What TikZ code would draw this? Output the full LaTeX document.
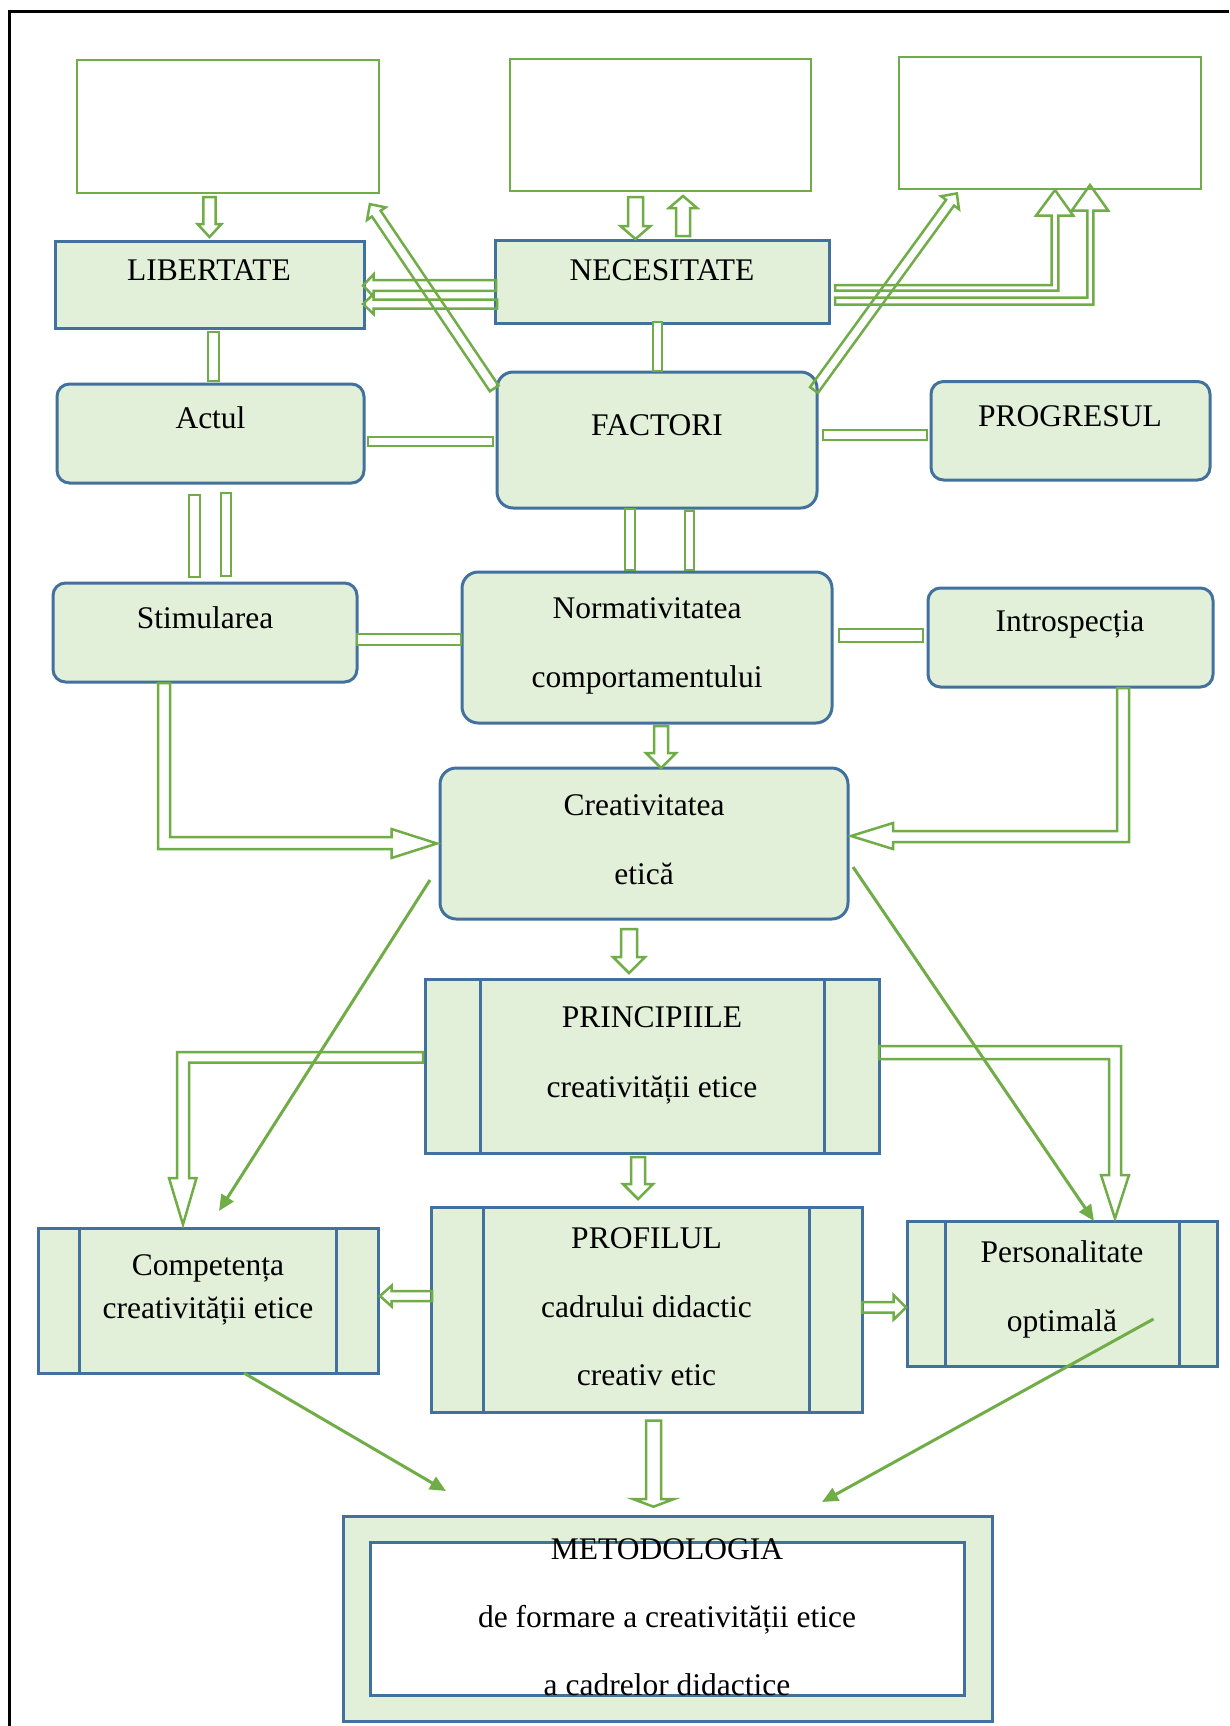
\documentclass[tikz,border=0pt]{standalone}
\usepackage{fontspec}
\setmainfont{Liberation Serif}
\usetikzlibrary{arrows.meta,fit}
\definecolor{gr}{HTML}{70AD47}
\definecolor{bl}{HTML}{41719C}
\definecolor{fillg}{HTML}{E2EFD9}
\tikzset{
  emptybox/.style={draw=gr, line width=1.15pt, fill=white, inner sep=0pt},
  sqbox/.style={draw=bl, line width=1.2pt, fill=fillg, inner sep=0pt},
  rbox/.style={sqbox, rounded corners=5pt},
  rboxL/.style={sqbox, rounded corners=6.5pt},
  innerbox/.style={draw=bl, line width=1.2pt, fill=white, inner sep=0pt},
  blk/.style={draw=gr, line width=1pt, line join=miter},
  bar/.style={draw=gr, line width=1pt, fill=white},
  solidarr/.style={draw=gr, line width=1.2pt, -{Triangle[length=6.4pt,width=5.6pt]}},
  txt/.style={font=\fontsize{12.6}{15}\selectfont, anchor=base, inner sep=0pt},
  divline/.style={draw=bl, line width=1.2pt},
}
% vertical block arrow: xc, shaft half, head half, ystart, ybase, ytip
\newcommand\BlkV[6]{%
  \draw[blk] ({#1-#2},#4) -- ({#1+#2},#4) -- ({#1+#2},#5) -- ({#1+#3},#5) -- (#1,#6) -- ({#1-#3},#5) -- ({#1-#2},#5) -- cycle;}
% horizontal block arrow: yc, shaft half, head half, xstart, xbase, xtip
\newcommand\BlkH[6]{%
  \draw[blk] (#4,{#1-#2}) -- (#5,{#1-#2}) -- (#5,{#1-#3}) -- (#6,#1) -- (#5,{#1+#3}) -- (#5,{#1+#2}) -- (#4,{#1+#2}) -- cycle;}
% diagonal block arrow: start coordinate, page angle, length, shaft half, head half, head length
\newcommand\BlkD[6]{%
  \begin{scope}[shift={(#1)}, rotate=#2]
  \draw[blk] (0,-#4) -- ({#3-#6},-#4) -- ({#3-#6},-#5) -- (#3,0) -- ({#3-#6},#5) -- ({#3-#6},#4) -- (0,#4) -- cycle;
  \end{scope}}
\begin{document}
\begin{tikzpicture}[x=0.4pt,y=-0.4pt]
\useasboundingbox (0,0) rectangle (1229,1726);
\fill[white] (0,0) rectangle (1229,1726);
% frame
\draw[black, line width=1.2pt] (9,1726) -- (9,11) -- (1229,11);

% ---------- top empty boxes ----------
\node[emptybox, fit={(77,60) (379,193)}] (e1) {};
\node[emptybox, fit={(510,59) (811,191)}] (e2) {};
\node[emptybox, fit={(899,57) (1201,189)}] (e3) {};

% ---------- boxes ----------
\node[sqbox, fit={(55,241) (364,328)}] (lib) {};
\node[txt] (libT) at (209,280.6) {LIBERTATE};
\node[sqbox, fit={(495,240) (829,323)}] (nec) {};
\node[txt] (necT) at (662,280.6) {NECESITATE};

\node[rbox, fit={(57,384) (364,483)}] (act) {};
\node[txt] (actT) at (210.5,428) {Actul};
\node[rboxL, fit={(497,372) (817,508)}] (fac) {};
\node[txt] (facT) at (657,435.6) {FACTORI};
\node[rbox, fit={(931,381.5) (1210,480)}] (prog) {};
\node[txt] (progT) at (1070,426) {PROGRESUL};

\node[rbox, fit={(53,583) (357,682)}] (stim) {};
\node[txt] (stimT) at (205,628) {Stimularea};
\node[rboxL, fit={(462,572) (832,723)}] (norm) {};
\node[txt] (normT1) at (647,618) {Normativitatea};
\node[txt] (normT2) at (647,687) {comportamentului};
\node[rbox, fit={(928,588) (1213,687)}] (intro) {};
\node[txt] (introT) at (1070,631) {Introspecția};

\node[rboxL, fit={(440,768) (848,919)}] (crea) {};
\node[txt] (creaT1) at (644,815) {Creativitatea};
\node[txt] (creaT2) at (644,884) {etică};

\node[sqbox, fit={(425,979) (879,1153)}] (princ) {};
\draw[divline] (480,979) -- (480,1153);
\draw[divline] (824,979) -- (824,1153);
\node[txt] (princT1) at (652,1027) {PRINCIPIILE};
\node[txt] (princT2) at (652,1097) {creativității etice};

\node[sqbox, fit={(431,1207) (862,1412)}] (prof) {};
\draw[divline] (483,1207) -- (483,1412);
\draw[divline] (809,1207) -- (809,1412);
\node[txt] (profT1) at (646.5,1248.6) {PROFILUL};
\node[txt] (profT2) at (646.5,1317) {cadrului didactic};
\node[txt] (profT3) at (646.5,1385.6) {creativ etic};

\node[sqbox, fit={(38,1228) (378,1373)}] (comp) {};
\draw[divline] (79,1228) -- (79,1373);
\draw[divline] (336,1228) -- (336,1373);
\node[txt] (compT1) at (208,1275.5) {Competența};
\node[txt] (compT2) at (208,1318.5) {creativității etice};

\node[sqbox, fit={(907,1221) (1217,1366)}] (pers) {};
\draw[divline] (945,1221) -- (945,1366);
\draw[divline] (1179,1221) -- (1179,1366);
\node[txt] (persT1) at (1062,1262.5) {Personalitate};
\node[txt] (persT2) at (1062,1331) {optimală};

\node[sqbox, fit={(343,1516) (992,1721)}] (met) {};
\node[innerbox, fit={(370,1542) (964,1695)}] (metIn) {};
\node[txt] (metT1) at (667,1559) {METODOLOGIA};
\node[txt] (metT2) at (667,1627) {de formare a creativității etice};
\node[txt] (metT3) at (667,1695) {a cadrelor didactice};

% ---------- bars (plain connectors) ----------
\draw[bar] (208,332) rectangle (219,381);
\draw[bar] (653,322) rectangle (662,371);
\draw[bar] (368,437) rectangle (493,446);
\draw[bar] (823,430) rectangle (927,440);
\draw[bar] (189,495) rectangle (200,577);
\draw[bar] (221,493) rectangle (231,576);
\draw[bar] (625,509) rectangle (635,570);
\draw[bar] (685,511) rectangle (694,570);
\draw[bar] (357,634) rectangle (461,645);
\draw[bar] (839,629) rectangle (923,642);

% ---------- small block arrows ----------
\BlkV{209.5}{6.2}{12}{197}{224}{237}
\BlkV{635.5}{7.5}{15}{197}{226}{239}
\BlkV{683}{7}{14}{236}{208}{196}
\BlkV{661}{7}{15}{726}{753}{768}
\BlkV{629}{8}{16}{929}{957}{973}
\BlkV{638}{7}{15}{1157}{1184}{1199}
\BlkV{653.5}{7.5}{20.5}{1420.7}{1499}{1506.7}
\BlkH{285.5}{5.3}{11}{496}{373.5}{363}
\BlkH{304}{4.5}{10}{497}{373.5}{363}
\BlkH{1296}{5}{10.3}{432}{391.5}{380}
\BlkH{1307.3}{5.2}{12.3}{862}{893.6}{906}

% ---------- diagonal block arrows ----------
\coordinate (d1s) at (494.2,388.4);
\coordinate (d2s) at (814,390);
\BlkD{d1s}{124}{222.3}{5.2}{11.2}{11.5}
\BlkD{d2s}{54}{243}{4.9}{11}{11.5}

% ---------- elbow block arrows ----------
% NECESITATE -> top right box
\draw[blk] (835,285) -- (1051.7,285) -- (1051.7,215.7) -- (1036,215.7) -- (1055,190) -- (1073.3,215.7) -- (1058.3,215.7) -- (1058.3,290.7) -- (835,290.7) -- cycle;
\draw[blk] (835,297.5) -- (1087.3,297.5) -- (1087.3,210.7) -- (1071.7,210.7) -- (1090,185) -- (1108.3,210.7) -- (1093.3,210.7) -- (1093.3,304.7) -- (835,304.7) -- cycle;
% Stimularea -> Creativitatea
\draw[blk] (158,683) -- (170,683) -- (170,837) -- (391.5,837) -- (391.5,829) -- (437,843.5) -- (391.5,858) -- (391.5,849) -- (158,849) -- cycle;
% Introspectia -> Creativitatea
\draw[blk] (1117,688) -- (1129,688) -- (1129,842) -- (893,842) -- (893,849) -- (851,836) -- (893,823) -- (893,831) -- (1117,831) -- cycle;
% PRINCIPIILE -> Competenta
\draw[blk] (423,1052) -- (177,1052) -- (177,1178) -- (169,1178) -- (183,1224.5) -- (196.5,1178) -- (189,1178) -- (189,1062.5) -- (423,1062.5) -- cycle;
% PRINCIPIILE -> Personalitate
\draw[blk] (879,1046) -- (1121,1046) -- (1121,1175) -- (1129,1175) -- (1115,1218.5) -- (1101,1175) -- (1109,1175) -- (1109,1059) -- (879,1059) -- cycle;

% ---------- solid arrows ----------
\coordinate (c1s) at (430,880);   \coordinate (c1e) at (219,1211);
\coordinate (c2s) at (853,867);   \coordinate (c2e) at (1094,1221);
\coordinate (c3s) at (244,1373);  \coordinate (c3e) at (446,1491);
\coordinate (c4s) at (1153.5,1319); \coordinate (c4e) at (822,1502);
\draw[solidarr] (c1s) -- (c1e);
\draw[solidarr] (c2s) -- (c2e);
\draw[solidarr] (c3s) -- (c3e);
\draw[solidarr] (c4s) -- (c4e);
\end{tikzpicture}
\end{document}
